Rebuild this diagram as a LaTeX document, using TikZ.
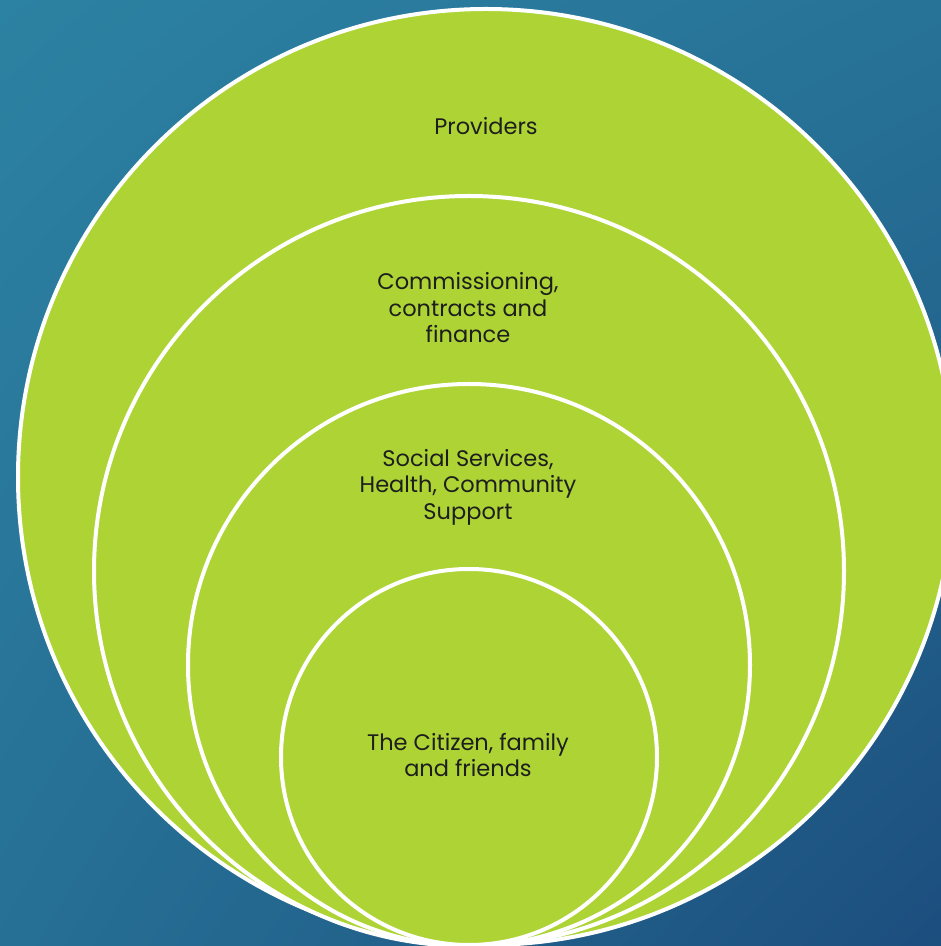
\documentclass[tikz,border=0pt]{standalone}
\usepackage{fontspec}
\setmainfont{Poppins}
\usetikzlibrary{shadings}
\begin{document}
\begin{tikzpicture}[x=1pt,y=1pt,
  ring/.style={draw=white, line width=4pt, fill=ringgreen},
  label/.style={text=labeltext, align=center, font=\fontsize{22.5}{26.5}\selectfont, inner sep=0pt}]
\definecolor{ringgreen}{RGB}{173,212,52}
\definecolor{labeltext}{RGB}{30,30,30}
\definecolor{bgtl}{RGB}{44,130,162}
\definecolor{bgbr}{RGB}{28,78,126}
\useasboundingbox (0,0) rectangle (941,946);
\clip (0,0) rectangle (941,946);
% backdrop
\shade[upper left=bgtl, upper right=bgtl!70!bgbr, lower left=bgtl!65!bgbr, lower right=bgbr] (0,0) rectangle (941,946);
% nested rings, all touching at the bottom
\path[ring] (486,469) circle (468);
\path[ring] (469,375) circle (375);
\path[ring] (469,281) circle (281);
\path[ring] (469,189) circle (188);
% ring labels
\node[label] (providers) at (486,820) {Providers};
\node[label] (commissioning) at (468,638) {Commissioning,\\contracts and\\finance};
\node[label] (services) at (468,459) {Social Services,\\Health, Community\\Support};
\node[label] (citizen) at (468,191) {The Citizen, family\\and friends};
\end{tikzpicture}
\end{document}
